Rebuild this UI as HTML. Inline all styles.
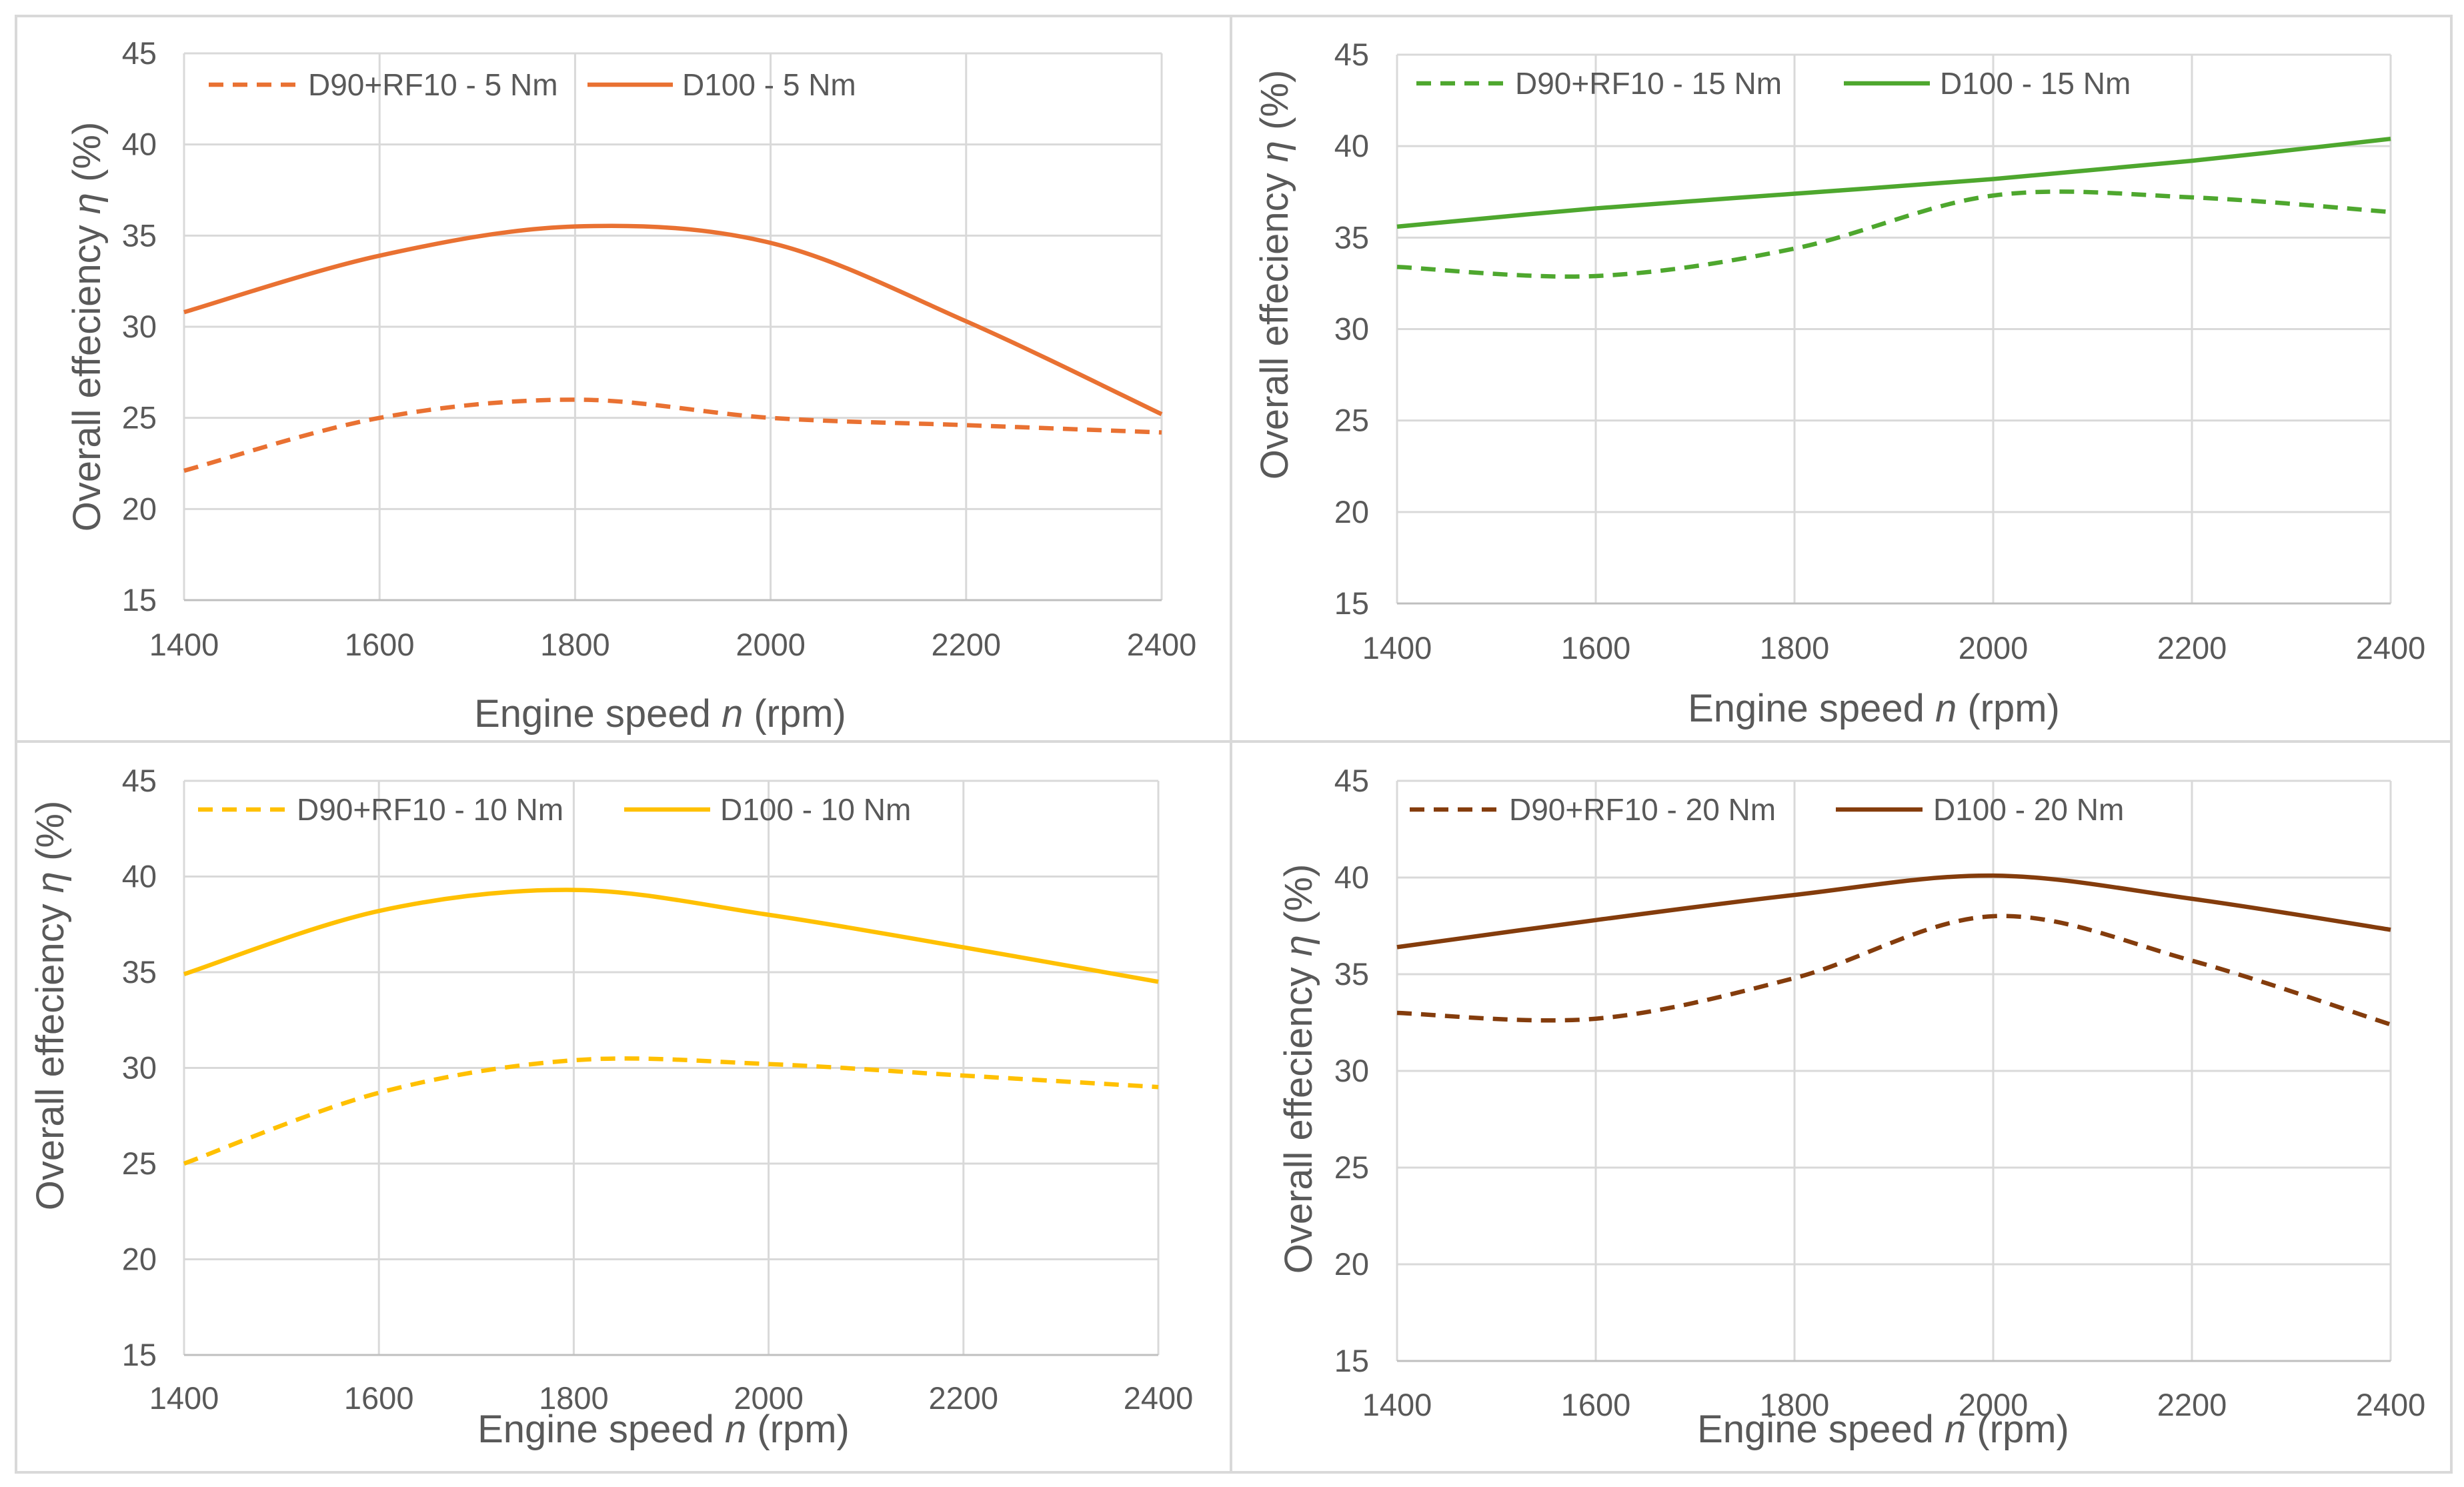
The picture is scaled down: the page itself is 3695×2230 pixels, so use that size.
<!DOCTYPE html>
<html><head><meta charset="utf-8"><style>
body{margin:0;background:#fff;}
svg{display:block;font-family:"Liberation Sans",sans-serif;}
</style></head><body>
<svg id="chart" width="3695" height="2230" viewBox="0 0 3695 2230" xmlns="http://www.w3.org/2000/svg"></svg>
<script>
const categories = [1400, 1600, 1800, 2000, 2200, 2400];
const yTicks = [15, 20, 25, 30, 35, 40, 45];
const d100_5 = [30.8, 33.9, 35.5, 34.6, 30.3, 25.2];
const d90_5 = [22.1, 25.0, 26.0, 25.0, 24.6, 24.2];
const d100_15 = [35.6, 36.6, 37.4, 38.2, 39.2, 40.4];
const d90_15 = [33.4, 32.9, 34.4, 37.3, 37.2, 36.4];
const d100_10 = [34.9, 38.2, 39.3, 38.0, 36.3, 34.5];
const d90_10 = [25.0, 28.7, 30.4, 30.2, 29.6, 29.0];
const d100_20 = [36.4, 37.8, 39.1, 40.1, 38.9, 37.3];
const d90_20 = [33.0, 32.7, 34.8, 38.0, 35.7, 32.4];
const legendDashed = ["D90+RF10 - 5 Nm", "D90+RF10 - 15 Nm", "D90+RF10 - 10 Nm", "D90+RF10 - 20 Nm"];
const legendSolid = ["D100 - 5 Nm", "D100 - 15 Nm", "D100 - 10 Nm", "D100 - 20 Nm"];

const NS = "http://www.w3.org/2000/svg";
const svg = document.getElementById("chart");
function mk(tag, attrs, parent, text) {
  const e = document.createElementNS(NS, tag);
  for (const k in attrs) e.setAttribute(k, attrs[k]);
  if (text !== undefined) e.textContent = text;
  (parent || svg).appendChild(e);
  return e;
}
const panels = [
  {box:[24,24,1846,1112], x0:276, x1:1742, yTop:80, yBot:900, ylabX:235, xlabY:983, xt:[990,1090], yt:[130,490], lg:[313,448,462,881,1009,1023,127], color:"#E97132", a:d90_5, b:d100_5, id:0, name:"5nm"},
  {box:[1846,24,3676,1112], x0:2095, x1:3585, yTop:82, yBot:905, ylabX:2053, xlabY:988, xt:[2810,1082], yt:[1911,412], lg:[2124,2256,2272,2765,2894,2909,125], color:"#4EA72E", a:d90_15, b:d100_15, id:1, name:"15nm"},
  {box:[24,1112,1846,2208], x0:276, x1:1737, yTop:1171, yBot:2032, ylabX:235, xlabY:2113, xt:[995,2163], yt:[75,1508], lg:[297,431,445,936,1065,1080,1214], color:"#FFC000", a:d90_10, b:d100_10, id:2, name:"10nm"},
  {box:[1846,1112,3676,2208], x0:2095, x1:3585, yTop:1171, yBot:2041, ylabX:2053, xlabY:2123, xt:[2824,2163], yt:[1947,1603], lg:[2114,2246,2263,2753,2883,2899,1214], color:"#843C0C", a:d90_20, b:d100_20, id:3, name:"20nm"}
];
function pathFor(vals, sx, sy) {
  const p = categories.map((c,i)=>[sx(c), sy(vals[i])]);
  let d = "M" + p[0][0] + "," + p[0][1];
  for (let i=0;i<p.length-1;i++){
    const p0 = p[Math.max(0,i-1)], p1=p[i], p2=p[i+1], p3=p[Math.min(p.length-1,i+2)];
    const c1=[p1[0]+(p2[0]-p0[0])/6, p1[1]+(p2[1]-p0[1])/6];
    const c2=[p2[0]-(p3[0]-p1[0])/6, p2[1]-(p3[1]-p1[1])/6];
    d += " C"+c1[0]+","+c1[1]+" "+c2[0]+","+c2[1]+" "+p2[0]+","+p2[1];
  }
  return d;
}
panels.forEach(P=>{
  const g = mk("g",{});
  
  
  const bx = mk("rect",{x:P.box[0],y:P.box[1],width:P.box[2]-P.box[0],height:P.box[3]-P.box[1],fill:"#fff",stroke:"#d9d9d9","stroke-width":4},g);
  
  
  const sx = v => P.x0 + (v-1400)/1000*(P.x1-P.x0);
  const sy = v => P.yBot - (v-15)/30*(P.yBot-P.yTop);
  yTicks.forEach(t=>{
    const l = mk("line",{x1:P.x0,x2:P.x1,y1:sy(t),y2:sy(t),stroke:"#d9d9d9","stroke-width":3},g);
    
    
    const tx = mk("text",{x:P.ylabX,y:sy(t)+16,"text-anchor":"end","font-size":47,fill:"#595959"},g,String(t));
    
    
  });
  categories.forEach(c=>{
    const l = mk("line",{x1:sx(c),x2:sx(c),y1:P.yTop,y2:P.yBot,stroke:"#d9d9d9","stroke-width":3},g);
    
    
    const tx = mk("text",{x:sx(c),y:P.xlabY,"text-anchor":"middle","font-size":47,fill:"#595959"},g,String(c));
    
    
  });
  const ax = mk("line",{x1:P.x0,x2:P.x1,y1:P.yBot,y2:P.yBot,stroke:"#bfbfbf","stroke-width":3},g);
  
  
  const s1 = mk("path",{d:pathFor(P.a,sx,sy),fill:"none",stroke:P.color,"stroke-width":6.5,"stroke-dasharray":"22 14"},g);
  
  
  const s2 = mk("path",{d:pathFor(P.b,sx,sy),fill:"none",stroke:P.color,"stroke-width":6.5},g);
  
  
  const L = P.lg;
  const lg = mk("g",{},g);
  
  
  const l1 = mk("line",{x1:L[0],x2:L[1],y1:L[6],y2:L[6],stroke:P.color,"stroke-width":6.5,"stroke-dasharray":"22 14"},lg);
  
  
  const t1 = mk("text",{x:L[2],y:L[6]+16,"font-size":46,fill:"#595959"},lg,legendDashed[P.id]);
  
  
  const l2 = mk("line",{x1:L[3],x2:L[4],y1:L[6],y2:L[6],stroke:P.color,"stroke-width":6.5},lg);
  
  
  const t2 = mk("text",{x:L[5],y:L[6]+16,"font-size":46,fill:"#595959"},lg,legendSolid[P.id]);
  
  
  const xt = mk("text",{x:P.xt[0],y:P.xt[1],"text-anchor":"middle","font-size":58,fill:"#595959"},g);
  
  
  mk("tspan",{},xt,"Engine speed  ");
  mk("tspan",{"font-style":"italic"},xt,"n");
  mk("tspan",{},xt," (rpm)");
  const yt = mk("text",{x:0,y:0,"text-anchor":"middle","font-size":58,fill:"#595959",transform:"translate("+(P.yt[0]+20)+","+P.yt[1]+") rotate(-90)"},g);
  
  
  mk("tspan",{},yt,"Overall effeciency ");
  mk("tspan",{"font-style":"italic"},yt,"η");
  mk("tspan",{},yt," (%)");
});
</script>
</body></html>
